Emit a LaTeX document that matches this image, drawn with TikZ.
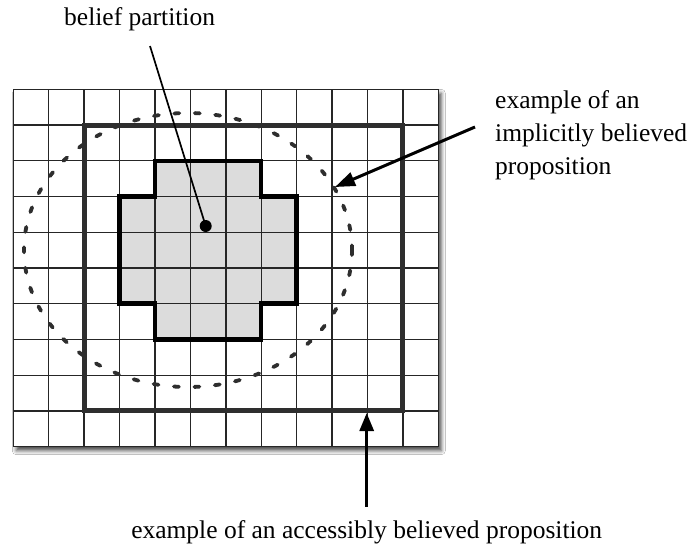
\documentclass[tikz,border=0pt]{standalone}
\usepackage{fontspec}
\setmainfont{Liberation Serif}
\usetikzlibrary{arrows.meta,shadows.blur}
\definecolor{boxgray}{HTML}{2E2E2E}
\definecolor{crossfill}{HTML}{DCDCDC}
\begin{document}
\begin{tikzpicture}[x=1pt,y=-1pt,
  lbl/.style={font=\fontsize{25.5}{33}\selectfont, inner sep=0pt},
  gridline/.style={line width=1.4pt, draw=black!85},
  crossline/.style={line width=4.5pt, draw=black, line join=miter},
  outerbox/.style={line width=5pt, draw=boxgray, line join=miter},
  dotring/.style={line width=3.8pt, draw=boxgray, line cap=round, dash pattern=on 5pt off 15.5pt},
  pointer/.style={line width=3pt, draw=black, -{Triangle[length=20pt,width=14pt]}},
  thinpointer/.style={line width=1.7pt, draw=black},
  dotmark/.style={circle, fill=black, inner sep=0pt, minimum size=12pt}]
\useasboundingbox (0,0) rectangle (693,558);
\fill[white] (0,0) rectangle (693,558);
\begin{scope}[shift={(13.3,89.3)}, x=35.42pt, y=-35.74pt]
  \fill[white, blur shadow={shadow xshift=3pt, shadow yshift=-4pt, shadow blur radius=4pt, shadow opacity=70}] (0,0) rectangle (12,10);
  \fill[crossfill] (4,2) -- (7,2) -- (7,3) -- (8,3) -- (8,6) -- (7,6) -- (7,7) -- (4,7) -- (4,6) -- (3,6) -- (3,3) -- (4,3) -- cycle;
  \foreach \i in {0,...,12} \draw[gridline] (\i,0) -- (\i,10);
  \foreach \j in {0,...,10} \draw[gridline] (0,\j) -- (12,\j);
  \draw[crossline] (4,2) -- (7,2) -- (7,3) -- (8,3) -- (8,6) -- (7,6) -- (7,7) -- (4,7) -- (4,6) -- (3,6) -- (3,3) -- (4,3) -- cycle;
  \draw[outerbox] (2,1) rectangle (11,9);
\end{scope}
\draw[dotring] (188,250) ellipse [x radius=164, y radius=137];
% labels
\node[lbl, anchor=base west] (bp) at (64,25) {belief partition};
\node[lbl, anchor=base west, align=left] (ib) at (495,174) {example of an\\implicitly believed\\proposition};
\node[lbl, anchor=base] (ab) at (366.7,538) {example of an accessibly believed proposition};
% pointers
\node[dotmark] (dot) at (205.7,226) {};
\coordinate (bpstart) at (150,46);
\draw[thinpointer] (bpstart) -- (dot.center);
\coordinate (ibstart) at (475,127);
\coordinate (ibtip) at (335,187);
\draw[pointer] (ibstart) -- (ibtip);
\coordinate (abstart) at (366.7,507);
\coordinate (abtip) at (366.7,413);
\draw[pointer, {Triangle[length=18pt,width=14pt]}-] (abtip) -- (abstart);
\end{tikzpicture}
\end{document}
